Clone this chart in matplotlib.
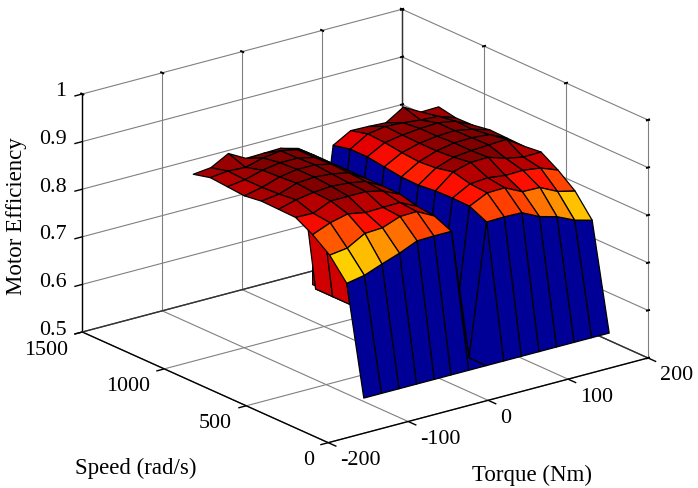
import numpy as np
import matplotlib
matplotlib.use("Agg")
import matplotlib.pyplot as plt
from matplotlib.colors import Normalize
from mpl_toolkits.mplot3d import proj3d
from mpl_toolkits.mplot3d.art3d import Poly3DCollection

# motor efficiency map, torque on columns and speed on rows
torque = [-94, -72, -50, -28, -6, 15, 37, 59, 81, 103, 125, 147, 169, 191, 213]
speed = [300, 404, 508, 612, 716, 820, 924, 1028, 1132, 1236, 1340]
efficiency = [
    [.5, .5, .5, .5, .5, .5, .5, .5, .5, .5, .5, .5, .5, .5, .5],
    [.725, .732, .746, .759, .775, .776, .776, .5, .776, .777, .776, .758, .748, .731, .721],
    [.768, .773, .794, .796, .81, .811, .792, .5, .793, .811, .812, .794, .793, .775, .766],
    [.795, .81, .819, .812, .813, .814, .796, .5, .794, .814, .817, .812, .813, .808, .794],
    [.815, .814, .83, .83, .83, .822, .805, .5, .793, .823, .833, .834, .822, .815, .816],
    [.816, .826, .832, .835, .832, .826, .806, .5, .789, .815, .828, .832, .834, .836, .812],
    [.817, .822, .835, .838, .835, .828, .806, .5, .79, .812, .825, .832, .833, .83, .813],
    [.812, .82, .832, .838, .838, .83, .806, .5, .795, .815, .825, .83, .832, .825, .814],
    [.815, .82, .83, .836, .836, .828, .806, .5, .8, .82, .826, .83, .832, .826, .808],
    [.818, .822, .82, .83, .835, .828, .806, .5, .8, .822, .828, .826, .822, .82, .807],
    [.809, .813, .833, .813, .814, .815, .805, .5, .792, .813, .812, .81, .833, .813, .814],
]
# short side wall under the left part of the first hump
skirt_rows = [1, 2, 3]
skirt_bottom = [.69, .69, .69]
skirt_level = .80

x_ticks = [-200, -100, 0, 100, 200]
y_ticks = [0, 500, 1000, 1500]
z_ticks = [.5, .6, .7, .8, .9, 1]
z_labels = ["0.5", "0.6", "0.7", "0.8", "0.9", "1"]

W, H = 698, 488
plt.rcParams["font.family"] = "Liberation Serif"
TICK_FS = 15.8
LABEL_FS = 16.5
GRID = "#808080"

fig = plt.figure(figsize=(W / 100, H / 100), dpi=100)
ax = fig.add_axes([0, 0, 1, 1], projection="3d", proj_type="ortho", computed_zorder=False)
ax.set_box_aspect((403, 404, 253.6))
ax.view_init(elev=20.2, azim=-127.5)
ax.set_axis_off()

x0, x1 = x_ticks[0], x_ticks[-1]
y0, y1 = y_ticks[0], y_ticks[-1]
z0, z1 = z_ticks[0], z_ticks[-1]


def line(xs, ys, zs, color=GRID, lw=0.8):
    ax.plot(xs, ys, zs, color=color, lw=lw, zorder=1, solid_capstyle="butt")


# grid on the floor and the two back walls
for x in x_ticks:
    line([x, x], [y0, y1], [z0, z0])
    line([x, x], [y1, y1], [z0, z1])
for y in y_ticks:
    line([x0, x1], [y, y], [z0, z0])
    line([x1, x1], [y, y], [z0, z1])
for z in z_ticks:
    line([x0, x1], [y1, y1], [z, z])
    line([x1, x1], [y0, y1], [z, z])

# dark box edges
line([x0, x1], [y0, y0], [z0, z0], "black", 1.0)
line([x0, x0], [y0, y1], [z0, z0], "black", 1.0)
line([x0, x0], [y1, y1], [z0, z1], "black", 1.0)
line([x1, x1], [y1, y1], [z0, z1], "#333333", 1.0)
line([x0, x1], [y1, y1], [z0, z0], "#333333", 1.0)
line([x1, x1], [y0, y1], [z0, z0], "#333333", 1.0)

# tick marks, outer axes and the far edges
for x in x_ticks:
    line([x, x], [y0, y0 - 50], [z0, z0], "black", 1.0)
    line([x, x], [y1 - 12, y1 + 12], [z1, z1], "black", 1.4)
for y in y_ticks:
    line([x0, x0 - 10], [y, y], [z0, z0], "black", 1.0)
    line([x1 - 2.5, x1 + 2.5], [y, y], [z1, z1], "black", 1.4)
for z in z_ticks:
    line([x0, x0 - 10], [y1, y1], [z, z], "black", 1.0)
    line([x1 - 2.5, x1 + 2.5], [y1, y1], [z, z], "black", 1.4)
    line([x1 - 2.5, x1 + 2.5], [y0, y0], [z, z], "black", 1.4)

T, S = np.meshgrid(torque, speed)
Z = np.array(efficiency)
norm = Normalize(.493, .83)
jet = plt.get_cmap("jet")

# skirt faces sit under the surface
skirt = []
for k in range(len(skirt_rows) - 1):
    r, q = skirt_rows[k], skirt_rows[k + 1]
    skirt.append([
        (torque[0], speed[r], Z[r, 0]),
        (torque[0], speed[q], Z[q, 0]),
        (torque[0], speed[q], skirt_bottom[k + 1]),
        (torque[0], speed[r], skirt_bottom[k]),
    ])
ax.add_collection3d(Poly3DCollection(skirt, facecolors=jet(norm(skirt_level)), edgecolors="black",
                                     linewidths=0.9, zorder=2))

surf = ax.plot_surface(T, S, Z, facecolors=jet(norm(Z)), rstride=1, cstride=1, shade=False,
                       antialiased=True, zorder=3)
surf.set_edgecolor("black")
surf.set_linewidth(0.9)

ax.set_xlim(x0, x1)
ax.set_ylim(y0, y1)
ax.set_zlim(z0, z1)


def to_px(x, y, z):
    ax.apply_aspect()
    px, py, _ = proj3d.proj_transform(x, y, z, ax.get_proj())
    return ax.transData.transform((px, py))


# fit the box to its place in the figure
target_left = np.array([82.3, H - 332.0])
target_right = np.array([648.0, H - 358.7])
a, b = to_px(x0, y1, z0), to_px(x1, y0, z0)
side = H * (target_right[0] - target_left[0]) / (b[0] - a[0])
ax.set_position([0, 0, side / W, side / H])
a = to_px(x0, y1, z0)
off = target_left - a
ax.set_position([off[0] / W, off[1] / H, side / W, side / H])


def label(x, y, z, dx, dy, s, ha):
    px = to_px(x, y, z)
    fig.text((px[0] + dx) / W, (px[1] - dy) / H, s, ha=ha, va="center", fontsize=TICK_FS)


for x in x_ticks:
    label(x, y0, z0, 12, 18, str(x), "left")
for y in y_ticks:
    label(x0, y, z0, -14.5, 18, str(y), "right")
for z, s in zip(z_ticks, z_labels):
    label(x0, y1, z, -16, -2, s, "right")

fig.text(136 / W, 1 - 468 / H, "Speed (rad/s)", ha="center", va="center", fontsize=LABEL_FS)
fig.text(532 / W, 1 - 475 / H, "Torque (Nm)", ha="center", va="center", fontsize=LABEL_FS)
fig.text(17 / W, 1 - 216 / H, "Motor Efficiency", ha="center", va="center", rotation=90, fontsize=LABEL_FS)

fig.savefig("out.png", dpi=100)
